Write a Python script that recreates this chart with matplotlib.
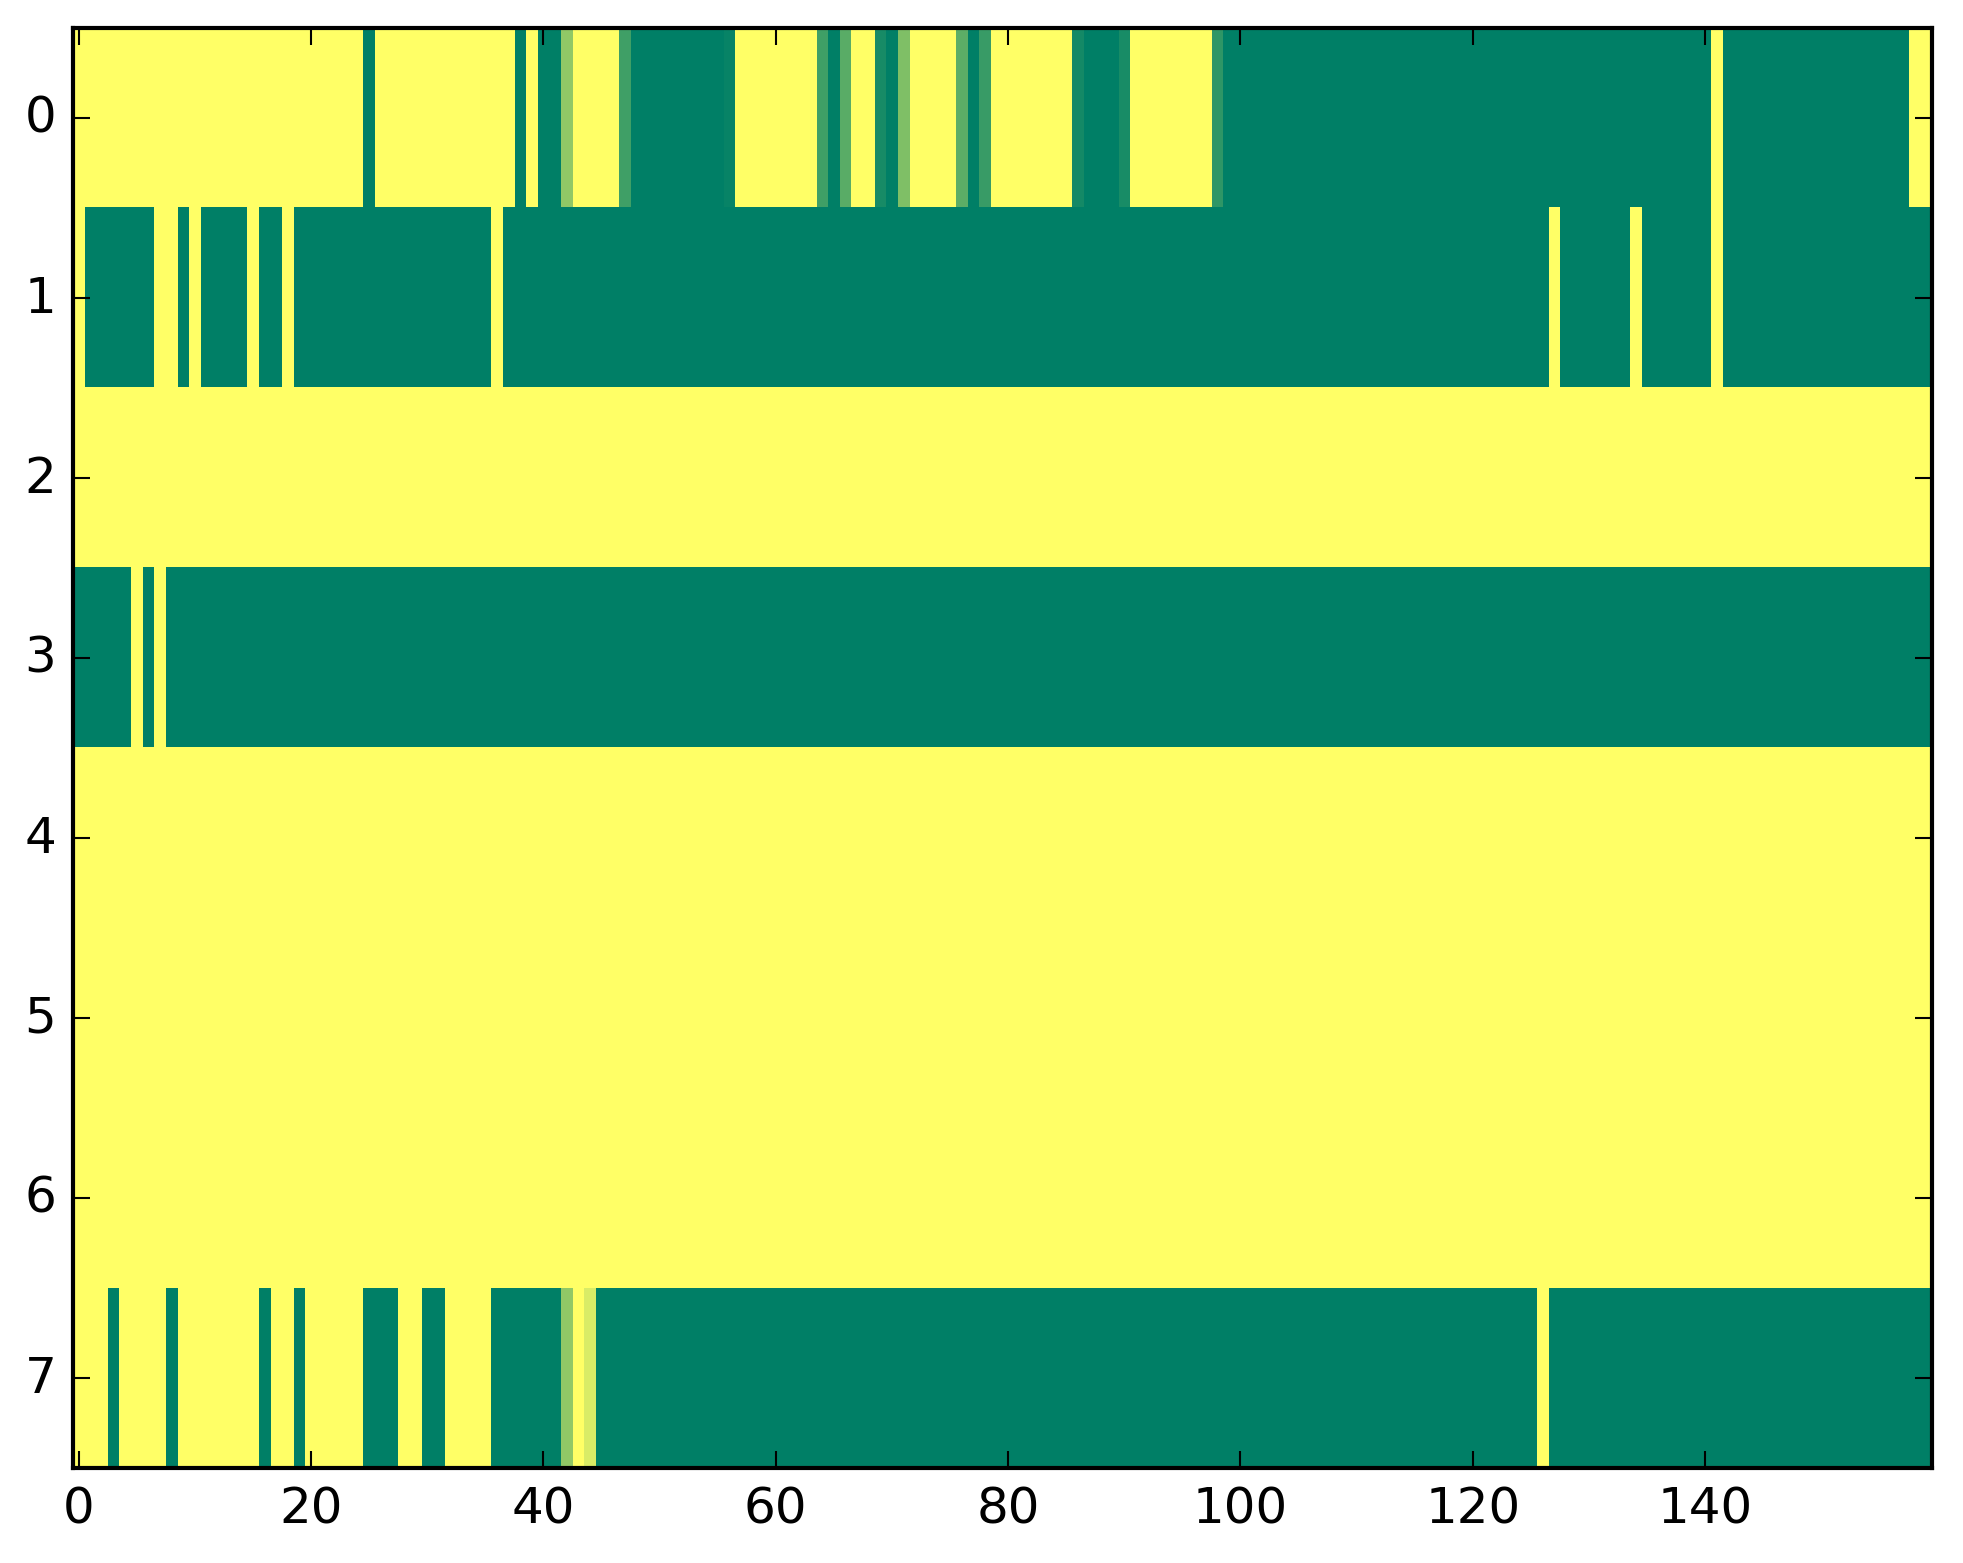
import numpy as np
import matplotlib
matplotlib.use('Agg')
import matplotlib.pyplot as plt

plt.style.use('classic')

# each row as (run length, value) pairs read left to right, 160 columns
row0 = [(25, 0), (1, 1), (12, 0), (1, 1), (1, 0), (2, 1), (1, 0.43), (4, 0),
        (1, 0.75), (8, 1), (1, 0.97), (7, 0), (1, 0.75), (1, 1), (1, 0.65),
        (2, 0), (1, 0.91), (1, 1), (1, 0.5), (4, 0), (1, 0.64), (1, 1),
        (1, 0.78), (7, 0), (1, 0.92), (3, 1), (1, 0.9), (7, 0), (1, 0.82),
        (42, 1), (1, 0), (16, 1), (2, 0)]
row1 = [(1, 0), (6, 1), (2, 0), (1, 1), (1, 0), (4, 1), (1, 0), (2, 1),
        (1, 0), (17, 1), (1, 0), (90, 1), (1, 0), (6, 1), (1, 0), (6, 1),
        (1, 0), (18, 1)]
row2 = [(160, 0)]
row3 = [(5, 1), (1, 0), (1, 1), (1, 0), (152, 1)]
row4 = [(160, 0)]
row5 = [(160, 0)]
row6 = [(160, 0)]
row7 = [(3, 0), (1, 1), (4, 0), (1, 1), (7, 0), (1, 1), (2, 0), (1, 1),
        (5, 0), (3, 1), (2, 0), (2, 1), (4, 0), (6, 1), (1, 0.43), (1, 0),
        (1, 0.15), (81, 1), (1, 0), (33, 1)]

rows = [row0, row1, row2, row3, row4, row5, row6, row7]


def expand(runs):
    out = []
    for n, v in runs:
        out.extend([v] * n)
    return out


data = np.array([expand(r) for r in rows])

fig = plt.figure(figsize=(1963 / 300., 1564 / 300.), dpi=300, facecolor='w')
fig.subplots_adjust(left=0.0372, right=0.984, bottom=0.0609, top=0.9817)
ax = fig.add_subplot(1, 1, 1)

ax.imshow(data, cmap='summer_r', vmin=0, vmax=1, aspect='auto',
          interpolation='nearest')
ax.set_xticks(np.arange(0, 160, 20))
ax.set_yticks(np.arange(0, 8))

fig.savefig('out.png', dpi=300, facecolor='w')
